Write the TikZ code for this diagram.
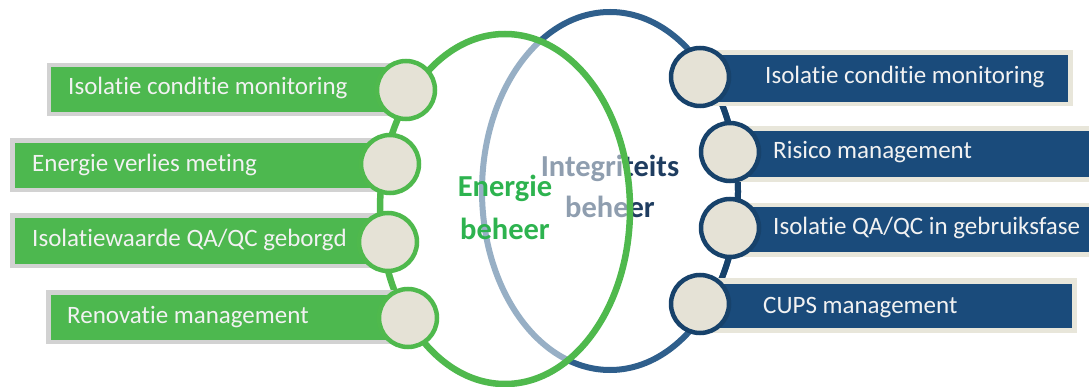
\documentclass[tikz,border=0pt]{standalone}
\usepackage{fontspec}
\setmainfont{Carlito}[RawFeature={-liga}]
\definecolor{gfill}{HTML}{4DB84F}
\definecolor{gline}{HTML}{4FB94D}
\definecolor{gtext}{HTML}{2DB34F}
\definecolor{gshadow}{HTML}{D2D2D2}
\definecolor{bfill}{HTML}{1A4B7B}
\definecolor{bline}{HTML}{2F5F8C}
\definecolor{bdark}{HTML}{17426B}
\definecolor{btext}{HTML}{1F3D60}
\definecolor{bborder}{HTML}{E8E6DA}
\definecolor{cfill}{HTML}{E5E2D6}
\definecolor{boxtext}{HTML}{F2F2F2}
\tikzset{
  gcirc/.style={circle, draw=gline, line width=4.5pt, fill=cfill, minimum size=58pt, inner sep=0pt},
  bcirc/.style={circle, draw=bdark, line width=4.5pt, fill=cfill, minimum size=58pt, inner sep=0pt},
  boxlabel/.style={anchor=base west, inner sep=0pt, text=boxtext, font=\fontsize{25}{30}\selectfont},
  title/.style={anchor=base, inner sep=0pt, font=\fontsize{30.5}{36}\selectfont\bfseries},
}
\begin{document}
\begin{tikzpicture}[x=1pt,y=-1pt]
\useasboundingbox (0,0) rectangle (1089,387);
% ---- blue ellipse and its title (below the green ellipse)
\draw[bline, line width=6pt] (610,191) ellipse [x radius=128, y radius=179];
\draw[bdark, line width=6pt] (610,191) ++(-50:128 and 179) arc [start angle=-50, end angle=50, x radius=128, y radius=179];
\node[title, text=btext] (t1) at (610,177) {Integriteits};
\node[title, text=btext] (t2) at (610,218) {beheer};
% ---- green ellipse with translucent white fill
\draw[gline, line width=6.5pt, fill=white, fill opacity=0.5] (505,209) ellipse [x radius=125, y radius=175];
\node[title, text=gtext] (e1) at (505,197) {Energie};
\node[title, text=gtext] (e2) at (505,240) {beheer};
% ---- left boxes
\fill[gshadow] (47,63) rectangle (406,116);
\fill[gfill] (51,67) rectangle (406,112);
\fill[gshadow] (10,138) rectangle (390,192);
\fill[gfill] (15,143) rectangle (390,188);
\fill[gshadow] (10,213) rectangle (388,268);
\fill[gfill] (15,218) rectangle (388,264);
\fill[gshadow] (46,290) rectangle (408,344);
\fill[gfill] (51,295) rectangle (408,340);
\node[boxlabel] (l1) at (68,95) {Isolatie conditie monitoring};
\node[boxlabel] (l2) at (32,172) {Energie verlies meting};
\node[boxlabel] (l3) at (32,247) {Isolatiewaarde QA/QC geborgd};
\node[boxlabel] (l4) at (67,323) {Renovatie management};
% ---- right boxes
\fill[bborder] (700,50) rectangle (1073,106);
\fill[bfill] (700,55) rectangle (1068,102);
\fill[bborder] (730,126) rectangle (1095,182);
\fill[bfill] (730,131) rectangle (1095,177);
\fill[bborder] (730,203) rectangle (1095,257);
\fill[bfill] (730,207) rectangle (1095,252);
\fill[bborder] (700,278) rectangle (1077,333);
\fill[bfill] (700,284) rectangle (1072,328);
\node[boxlabel] (r1) at (765,84) {Isolatie conditie monitoring};
\node[boxlabel] (r2) at (773,159) {Risico management};
\node[boxlabel] (r3) at (773,235) {Isolatie QA/QC in gebruiksfase};
\node[boxlabel] (r4) at (763,313) {CUPS management};
% ---- circles
\node[gcirc] (gc1) at (406,90) {};
\node[gcirc] (gc2) at (390,164) {};
\node[gcirc] (gc3) at (388,242) {};
\node[gcirc] (gc4) at (408,318) {};
\node[bcirc] (bc1) at (700,77) {};
\node[bcirc] (bc2) at (730,152) {};
\node[bcirc] (bc3) at (730,228) {};
\node[bcirc] (bc4) at (700,304) {};
\end{tikzpicture}
\end{document}
